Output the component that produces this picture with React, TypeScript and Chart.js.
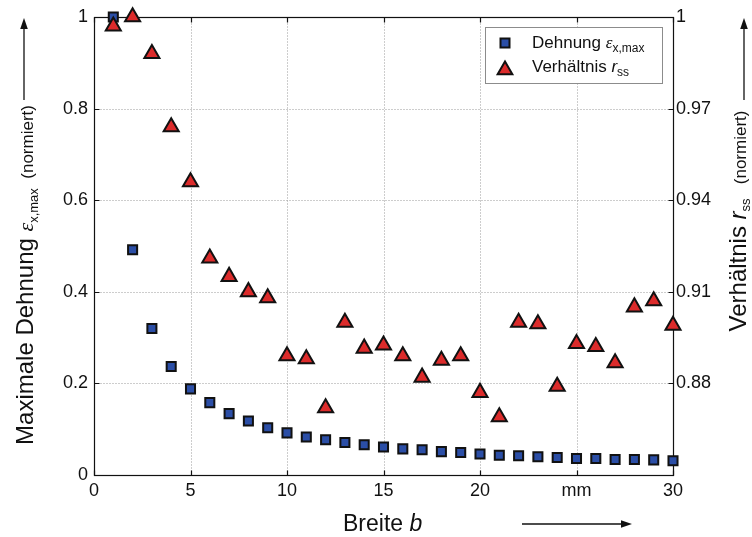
import React, { useEffect, useRef } from 'react';
import { Chart, registerables } from 'chart.js';

Chart.register(...registerables);

// ---- data ----
const breite = [1, 2, 3, 4, 5, 6, 7, 8, 9, 10, 11, 12, 13, 14, 15, 16, 17, 18, 19, 20, 21, 22, 23, 24, 25, 26, 27, 28, 29, 30];
const dehnung = [1.0, 0.492, 0.32, 0.237, 0.188, 0.158, 0.134, 0.118, 0.103, 0.092, 0.083, 0.077, 0.071, 0.066, 0.061, 0.057, 0.055, 0.051, 0.049, 0.046, 0.043, 0.042, 0.04, 0.038, 0.036, 0.036, 0.034, 0.034, 0.033, 0.031];
const verhaeltnis = [0.997, 1.0, 0.988, 0.964, 0.946, 0.921, 0.915, 0.91, 0.908, 0.889, 0.888, 0.872, 0.9, 0.8915, 0.8925, 0.889, 0.882, 0.8875, 0.889, 0.877, 0.869, 0.9, 0.8995, 0.879, 0.893, 0.892, 0.8867, 0.905, 0.907, 0.899];
const xTicks = [0, 5, 10, 15, 20, 25, 30];
const xTickLabels = ['0', '5', '10', '15', '20', 'mm', '30'];
const leftTicks = [0, 0.2, 0.4, 0.6, 0.8, 1];
const leftTickLabels = ['0', '0.2', '0.4', '0.6', '0.8', '1'];
const rightTicks = [0.88, 0.91, 0.94, 0.97, 1];
const rightTickLabels = ['0.88', '0.91', '0.94', '0.97', '1'];

const FONT = '"Liberation Sans", Arial, Helvetica, sans-serif';
const SERIF = '"Liberation Serif", "Times New Roman", serif';

type Part = { text: string; font: string; dy?: number };

function runWidth(ctx: CanvasRenderingContext2D, parts: Part[]) {
  let w = 0;
  for (const p of parts) {
    ctx.font = p.font;
    w += ctx.measureText(p.text).width;
  }
  return w;
}

function drawRun(ctx: CanvasRenderingContext2D, parts: Part[], x: number, y: number) {
  let cx = x;
  for (const p of parts) {
    ctx.font = p.font;
    ctx.fillText(p.text, cx, y + (p.dy || 0));
    cx += ctx.measureText(p.text).width;
  }
}

function arrow(ctx: CanvasRenderingContext2D, x1: number, y1: number, x2: number, y2: number) {
  const ang = Math.atan2(y2 - y1, x2 - x1);
  const len = 11;
  const hw = 3.8;
  ctx.save();
  ctx.strokeStyle = '#111';
  ctx.fillStyle = '#111';
  ctx.lineWidth = 1.3;
  ctx.beginPath();
  ctx.moveTo(x1, y1);
  ctx.lineTo(x2 - Math.cos(ang) * len * 0.8, y2 - Math.sin(ang) * len * 0.8);
  ctx.stroke();
  ctx.beginPath();
  ctx.moveTo(x2, y2);
  ctx.lineTo(x2 - Math.cos(ang) * len - Math.sin(ang) * hw, y2 - Math.sin(ang) * len + Math.cos(ang) * hw);
  ctx.lineTo(x2 - Math.cos(ang) * len + Math.sin(ang) * hw, y2 - Math.sin(ang) * len - Math.cos(ang) * hw);
  ctx.closePath();
  ctx.fill();
  ctx.restore();
}

const framePlugin = {
  id: 'frame',
  beforeDatasetsDraw(chart: any) {
    const { ctx, chartArea } = chart;
    const { left, right, top, bottom } = chartArea;
    const xs = chart.scales.x;
    const yl = chart.scales.y;
    const yr = chart.scales.y2;
    const L = Math.round(left) + 0.5;
    const R = Math.round(right) + 0.5;
    const T = Math.round(top) + 0.5;
    const B = Math.round(bottom) + 0.5;
    ctx.save();
    // grid
    ctx.strokeStyle = '#9a9a9a';
    ctx.lineWidth = 1;
    ctx.setLineDash([1, 2]);
    for (const v of xTicks) {
      if (v === xTicks[0] || v === xTicks[xTicks.length - 1]) continue;
      const px = Math.round(xs.getPixelForValue(v)) + 0.5;
      ctx.beginPath();
      ctx.moveTo(px, T);
      ctx.lineTo(px, B);
      ctx.stroke();
    }
    for (const v of leftTicks) {
      if (v === leftTicks[0] || v === leftTicks[leftTicks.length - 1]) continue;
      const py = Math.round(yl.getPixelForValue(v)) + 0.5;
      ctx.beginPath();
      ctx.moveTo(L, py);
      ctx.lineTo(R, py);
      ctx.stroke();
    }
    ctx.setLineDash([]);
    // box
    ctx.strokeStyle = '#111';
    ctx.lineWidth = 1.2;
    ctx.strokeRect(L, T, R - L, B - T);
    // tick marks (inward)
    const tl = 5;
    ctx.beginPath();
    for (const v of xTicks) {
      const px = Math.round(xs.getPixelForValue(v)) + 0.5;
      ctx.moveTo(px, B);
      ctx.lineTo(px, B - tl);
      ctx.moveTo(px, T);
      ctx.lineTo(px, T + tl);
    }
    for (const v of leftTicks) {
      const py = Math.round(yl.getPixelForValue(v)) + 0.5;
      ctx.moveTo(L, py);
      ctx.lineTo(L + tl, py);
    }
    for (const v of rightTicks) {
      const py = Math.round(yr.getPixelForValue(v)) + 0.5;
      ctx.moveTo(R, py);
      ctx.lineTo(R - tl, py);
    }
    ctx.stroke();
    ctx.restore();
  },
  afterDatasetsDraw(chart: any) {
    const { ctx } = chart;
    ctx.save();
    // legend
    const bx = 485, by = 27, bw = 177, bh = 56;
    ctx.fillStyle = '#fff';
    ctx.fillRect(bx, by, bw, bh);
    ctx.strokeStyle = '#8c8c8c';
    ctx.lineWidth = 1;
    ctx.strokeRect(bx + 0.5, by + 0.5, bw, bh);
    const ds0 = chart.data.datasets[0];
    const ds1 = chart.data.datasets[1];
    // square marker
    ctx.lineWidth = 2;
    ctx.strokeStyle = ds0.borderColor;
    ctx.fillStyle = ds0.backgroundColor;
    const s = 9;
    ctx.beginPath();
    ctx.rect(505 - s / 2, 43 - s / 2, s, s);
    ctx.fill();
    ctx.stroke();
    // triangle marker
    ctx.strokeStyle = ds1.borderColor;
    ctx.fillStyle = ds1.backgroundColor;
    const r = 8.5;
    const cy = 70;
    ctx.beginPath();
    ctx.moveTo(505, cy - r);
    ctx.lineTo(505 + r * Math.sin((2 * Math.PI) / 3), cy + r / 2);
    ctx.lineTo(505 - r * Math.sin((2 * Math.PI) / 3), cy + r / 2);
    ctx.closePath();
    ctx.fill();
    ctx.stroke();
    ctx.fillStyle = '#111';
    ctx.textBaseline = 'alphabetic';
    ctx.textAlign = 'left';
    drawRun(ctx, [
      { text: 'Dehnung ', font: `17px ${FONT}` },
      { text: 'ε', font: `italic 17px ${SERIF}` },
      { text: 'x,max', font: `12px ${FONT}`, dy: 4 },
    ], 532, 48);
    drawRun(ctx, [
      { text: 'Verhältnis ', font: `17px ${FONT}` },
      { text: 'r', font: `italic 17px ${FONT}` },
      { text: 'ss', font: `12px ${FONT}`, dy: 4 },
    ], 532, 72);

    // axis titles
    const leftParts: Part[] = [
      { text: 'Maximale Dehnung ', font: `24px ${FONT}` },
      { text: 'ε', font: `italic 22px ${SERIF}` },
      { text: 'x,max', font: `13px ${FONT}`, dy: 5 },
      { text: '  (normiert)', font: `17px ${FONT}` },
    ];
    let w = runWidth(ctx, leftParts);
    ctx.save();
    ctx.translate(33, 275);
    ctx.rotate(-Math.PI / 2);
    drawRun(ctx, leftParts, -w / 2, 0);
    ctx.restore();

    const rightParts: Part[] = [
      { text: 'Verhältnis ', font: `24px ${FONT}` },
      { text: 'r', font: `italic 24px ${FONT}` },
      { text: 'ss', font: `13px ${FONT}`, dy: 4 },
      { text: '   (normiert)', font: `17px ${FONT}` },
    ];
    w = runWidth(ctx, rightParts);
    ctx.save();
    ctx.translate(746, 221);
    ctx.rotate(-Math.PI / 2);
    drawRun(ctx, rightParts, -w / 2, 0);
    ctx.restore();

    drawRun(ctx, [
      { text: 'Breite ', font: `23px ${FONT}` },
      { text: 'b', font: `italic 23px ${FONT}` },
    ], 343, 531);

    arrow(ctx, 24, 100, 24, 18);
    arrow(ctx, 744, 100, 744, 18);
    arrow(ctx, 522, 524, 632, 524);
    ctx.restore();
  },
};

export default function App() {
  const ref = useRef<HTMLCanvasElement | null>(null);
  useEffect(() => {
    const canvas = ref.current;
    if (!canvas) return;
    const chart = new Chart(canvas, {
      type: 'scatter',
      data: {
        datasets: [
          {
            label: 'Dehnung',
            data: breite.map((x, i) => ({ x, y: dehnung[i] })),
            yAxisID: 'y',
            pointStyle: 'rect',
            pointRadius: 6.4,
            pointHoverRadius: 6.4,
            backgroundColor: '#2b4ea6',
            borderColor: '#111111',
            borderWidth: 2,
            clip: false,
            order: 1,
          },
          {
            label: 'Verhältnis',
            data: breite.map((x, i) => ({ x, y: verhaeltnis[i] })),
            yAxisID: 'y2',
            pointStyle: 'triangle',
            pointRadius: 8.7,
            pointHoverRadius: 8.7,
            backgroundColor: '#dc2b2b',
            borderColor: '#111111',
            borderWidth: 2,
            clip: false,
            order: 0,
          },
        ],
      } as any,
      options: {
        responsive: false,
        maintainAspectRatio: false,
        animation: false,
        layout: { padding: { top: 17, left: 0, right: 0, bottom: 0 } },
        plugins: { legend: { display: false }, tooltip: { enabled: false } },
        events: [],
        scales: {
          x: {
            type: 'linear',
            min: 0,
            max: 30,
            grid: { display: false, drawTicks: false },
            border: { display: false },
            afterBuildTicks: (s: any) => {
              s.ticks = xTicks.map((v) => ({ value: v }));
            },
            afterFit: (s: any) => {
              s.height = 62;
            },
            ticks: {
              autoSkip: false,
              maxRotation: 0,
              padding: 5,
              color: '#111',
              font: { family: FONT, size: 18 },
              callback: (v: any) => xTickLabels[xTicks.indexOf(Number(v))] ?? '',
            },
          },
          y: {
            type: 'linear',
            position: 'left',
            min: 0,
            max: 1,
            grid: { display: false, drawTicks: false },
            border: { display: false },
            afterBuildTicks: (s: any) => {
              s.ticks = leftTicks.map((v) => ({ value: v }));
            },
            afterFit: (s: any) => {
              s.width = 94;
            },
            ticks: {
              padding: 6,
              color: '#111',
              font: { family: FONT, size: 18 },
              callback: (v: any) => leftTickLabels[leftTicks.indexOf(Number(v))] ?? '',
            },
          },
          y2: {
            type: 'linear',
            position: 'right',
            min: 0.85,
            max: 1,
            grid: { display: false, drawTicks: false },
            border: { display: false },
            afterBuildTicks: (s: any) => {
              s.ticks = rightTicks.map((v) => ({ value: v }));
            },
            afterFit: (s: any) => {
              s.width = 79;
            },
            ticks: {
              padding: 3,
              color: '#111',
              font: { family: FONT, size: 18 },
              callback: (v: any) => {
                const i = rightTicks.findIndex((t) => Math.abs(t - Number(v)) < 1e-9);
                return i >= 0 ? rightTickLabels[i] : '';
              },
            },
          },
        },
      } as any,
      plugins: [framePlugin],
    });
    return () => chart.destroy();
  }, []);
  return (
    <div style={{ position: 'fixed', left: 0, top: 0, width: 752, height: 537, background: '#fff' }}>
      <canvas ref={ref} width={752} height={537} style={{ display: 'block' }} />
    </div>
  );
}
